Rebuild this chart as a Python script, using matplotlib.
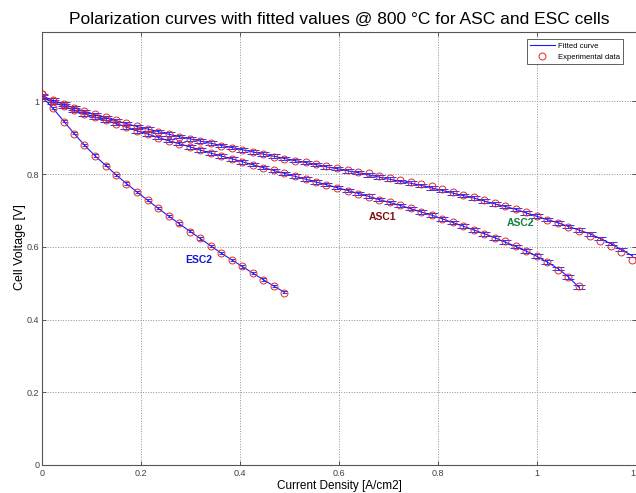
import matplotlib
matplotlib.use("Agg")
import matplotlib.pyplot as plt

plt.rcParams['font.family'] = ['Liberation Sans', 'DejaVu Sans']

# current density [A/cm2], shared by the three cells
current_density = [
    0.000, 0.021, 0.043, 0.064, 0.085, 0.106, 0.128, 0.149, 0.170, 0.191,
    0.213, 0.234, 0.255, 0.276, 0.298, 0.319, 0.340, 0.361, 0.383, 0.404,
    0.425, 0.446, 0.468, 0.489, 0.510, 0.532, 0.553, 0.574, 0.595, 0.617,
    0.638, 0.659, 0.680, 0.702, 0.723, 0.744, 0.765, 0.787, 0.808, 0.829,
    0.850, 0.872, 0.893, 0.914, 0.935, 0.957, 0.978, 0.999, 1.020, 1.042,
    1.063, 1.084, 1.106, 1.127, 1.148, 1.169, 1.191,
]

esc2_exp = [
    1.020, 0.981, 0.944, 0.911, 0.881, 0.850, 0.823, 0.798, 0.774, 0.751,
    0.729, 0.706, 0.686, 0.665, 0.642, 0.623, 0.603, 0.584, 0.564, 0.546,
    0.527, 0.510, 0.492, 0.474,
]
esc2_fit = [
    1.012, 0.982, 0.946, 0.912, 0.880, 0.851, 0.824, 0.798, 0.774, 0.751,
    0.728, 0.706, 0.685, 0.664, 0.643, 0.623, 0.603, 0.583, 0.564, 0.546,
    0.528, 0.510, 0.492, 0.475,
]

asc1_exp = [
    1.008, 1.000, 0.987, 0.976, 0.966, 0.957, 0.948, 0.939, 0.929, 0.918,
    0.909, 0.900, 0.892, 0.884, 0.875, 0.867, 0.857, 0.850, 0.841, 0.834,
    0.825, 0.818, 0.810, 0.802, 0.794, 0.786, 0.779, 0.770, 0.763, 0.754,
    0.746, 0.738, 0.729, 0.722, 0.714, 0.707, 0.696, 0.687, 0.676, 0.667,
    0.657, 0.647, 0.636, 0.625, 0.615, 0.602, 0.589, 0.575, 0.558, 0.537,
    0.517, 0.491,
]
asc1_fit = [
    1.012, 0.998, 0.987, 0.976, 0.966, 0.957, 0.948, 0.939, 0.929, 0.919,
    0.910, 0.901, 0.892, 0.884, 0.875, 0.866, 0.858, 0.850, 0.842, 0.834,
    0.826, 0.818, 0.810, 0.802, 0.794, 0.786, 0.778, 0.771, 0.763, 0.755,
    0.747, 0.739, 0.730, 0.722, 0.714, 0.705, 0.696, 0.687, 0.677, 0.667,
    0.657, 0.646, 0.636, 0.625, 0.613, 0.601, 0.588, 0.574, 0.558, 0.540,
    0.517, 0.489,
]

asc2_exp = [
    1.021, 1.004, 0.992, 0.982, 0.973, 0.964, 0.956, 0.948, 0.940, 0.932,
    0.925, 0.917, 0.910, 0.903, 0.897, 0.892, 0.885, 0.878, 0.873, 0.867,
    0.860, 0.855, 0.848, 0.842, 0.837, 0.833, 0.827, 0.822, 0.816, 0.811,
    0.807, 0.802, 0.796, 0.790, 0.784, 0.778, 0.772, 0.766, 0.759, 0.750,
    0.743, 0.736, 0.728, 0.721, 0.713, 0.705, 0.696, 0.685, 0.674, 0.665,
    0.655, 0.643, 0.631, 0.617, 0.601, 0.585, 0.564,
]
asc2_fit = [
    1.015, 1.003, 0.992, 0.982, 0.972, 0.963, 0.955, 0.947, 0.939, 0.931,
    0.924, 0.917, 0.910, 0.903, 0.897, 0.891, 0.885, 0.879, 0.873, 0.867,
    0.861, 0.855, 0.849, 0.843, 0.837, 0.832, 0.826, 0.820, 0.815, 0.809,
    0.804, 0.798, 0.792, 0.786, 0.780, 0.775, 0.769, 0.762, 0.755, 0.748,
    0.741, 0.734, 0.726, 0.718, 0.711, 0.703, 0.693, 0.684, 0.675, 0.666,
    0.656, 0.646, 0.636, 0.623, 0.609, 0.593, 0.576,
]

asc_err = 0.005
esc_err = 0.003

x_ticks = [0, 0.2, 0.4, 0.6, 0.8, 1, 1.2]
y_ticks = [0, 0.2, 0.4, 0.6, 0.8, 1]


def main():
    fig = plt.figure(figsize=(6.36, 4.93), dpi=100)
    W, H = 636, 493
    # axes box in pixels: x 42.3..636.3, y 32.3..465 (the right edge is cut off)
    ax = fig.add_axes([42.3 / W, (H - 465) / H, 594 / W, 432.7 / H])

    series = [
        (asc1_exp, asc1_fit, asc_err, 4.3),
        (asc2_exp, asc2_fit, asc_err, 4.3),
        (esc2_exp, esc2_fit, esc_err, 1.8),
    ]
    for i, (exp, fit, err, cap) in enumerate(series):
        x = current_density[:len(exp)]
        ax.errorbar(x, fit, yerr=err, fmt='none', ecolor='#3030ff',
                    elinewidth=0.6, capsize=cap, capthick=0.7, zorder=3)
        ax.plot(x, fit, '-', color='#1a1aff', lw=0.8, zorder=3,
                label='Fitted curve' if i == 0 else None)
        ax.plot(x, exp, 'o', mfc='none', mec='#e02828', ms=5, mew=0.7,
                zorder=4, label='Experimental data' if i == 0 else None)

    ax.text(0.688, 0.681, 'ASC1', color='#801010', fontsize=7.5,
            fontweight='bold', ha='center', va='center')
    ax.text(0.967, 0.666, 'ASC2', color='#108040', fontsize=7.5,
            fontweight='bold', ha='center', va='center')
    ax.text(0.316, 0.564, 'ESC2', color='#1515e0', fontsize=7.5,
            fontweight='bold', ha='center', va='center')

    ax.set_xlim(0, 1.2)
    ax.set_ylim(0, 1.19)
    ax.set_xticks(x_ticks)
    ax.set_xticklabels(['0', '0.2', '0.4', '0.6', '0.8', '1', '1.2'])
    ax.set_yticks(y_ticks)
    ax.set_yticklabels(['0', '0.2', '0.4', '0.6', '0.8', '1'])
    ax.tick_params(direction='in', length=3, width=0.6, colors='#404040',
                   labelsize=6.5, pad=2, top=True, right=True)
    ax.tick_params(axis='x', pad=3)
    for sp in ax.spines.values():
        sp.set_color('#555555')
        sp.set_linewidth(0.8)
    ax.spines['right'].set_visible(False)
    ax.grid(True, linestyle=':', color='#909090', lw=0.7)
    ax.set_axisbelow(True)

    ax.set_title('Polarization curves with fitted values @ 800 \u00b0C for ASC and ESC cells',
                 fontsize=12.5, pad=6)
    ax.set_xlabel('Current Density [A/cm2]', fontsize=8.5)
    ax.xaxis.label.set_va('center')
    ax.xaxis.set_label_coords(0.5, -0.0485)
    ax.set_ylabel('Cell Voltage [V]', fontsize=9)
    ax.yaxis.label.set_va('center')
    ax.yaxis.set_label_coords(-0.038, 0.504)

    leg = ax.legend(loc='upper right', bbox_to_anchor=(623 / W, 1 - 39.3 / H),
                    bbox_transform=fig.transFigure, borderaxespad=0,
                    fontsize=5.5, fancybox=False, framealpha=1,
                    edgecolor='#606060', handlelength=3.3, handletextpad=0.4,
                    borderpad=0.4, labelspacing=0.5)
    leg.get_frame().set_linewidth(0.7)

    fig.savefig('out.png', dpi=100)


if __name__ == "__main__":
    main()
